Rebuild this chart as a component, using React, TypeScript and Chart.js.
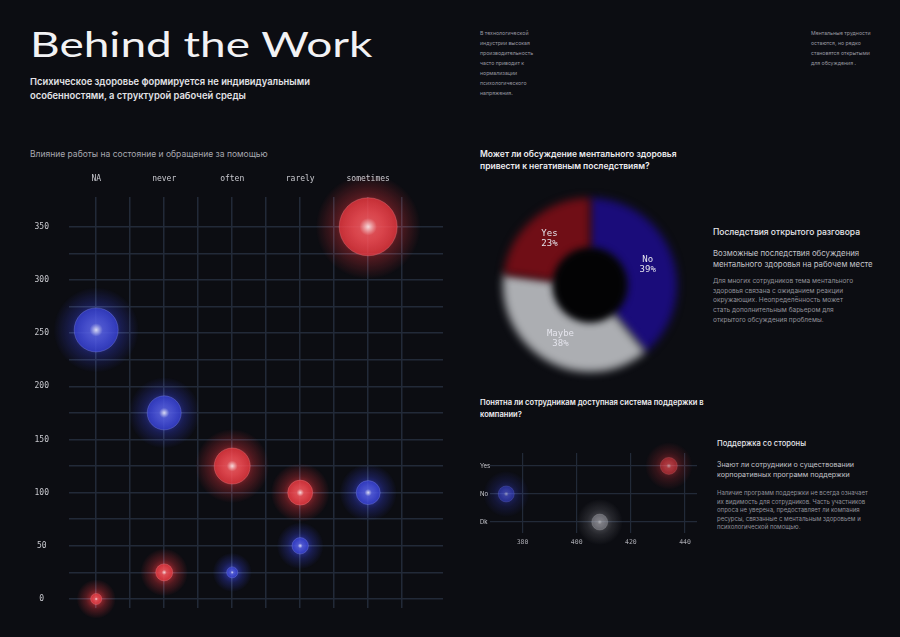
import React, { useEffect, useLayoutEffect, useRef } from "react";
import { Chart, registerables } from "chart.js";

Chart.register(...registerables);

// Влияние работы на состояние и обращение за помощью
const frequencyLabels = ["NA", "never", "often", "rarely", "sometimes"];
const workImpact = [0, 25, 125, 100, 350];
const workImpactSize = [5.5, 8.5, 18, 12.5, 29];
const helpSeeking = [253, 175, 25, 50, 100];
const helpSeekingSize = [22, 17, 5.5, 8.2, 12];
const impactAxisLabels = [0, 50, 100, 150, 200, 250, 300, 350];

// Может ли обсуждение привести к негативным последствиям
const consequenceLabels = ["No", "Maybe", "Yes"];
const consequenceShares = [39, 38, 23];

// Понятна ли система поддержки
const awarenessLabels = ["Dk", "No", "Yes"];
const awarenessCounts = [408.5, 374, 434];
const awarenessSize = [8, 8, 8.5];
const awarenessAxisLabels = [380, 400, 420, 440];

const BG = "#0c0d12";
const RED: number[] = [222, 52, 60];
const BLUE: number[] = [52, 62, 205];
const GREY: number[] = [150, 150, 158];
const GRID = "#222a38";
const MONO = "'DejaVu Sans Mono', 'Liberation Mono', monospace";
const SANS = "Inter, 'Noto Sans', sans-serif";

function drawOrb(ctx: CanvasRenderingContext2D, x: number, y: number, r: number, tint: number[], glow: number, body: number) {
  const [cr, cg, cb] = tint;
  const c = (a: number) => `rgba(${cr},${cg},${cb},${a})`;
  const light = (k: number, a: number) =>
    `rgba(${Math.round(cr + (255 - cr) * k)},${Math.round(cg + (255 - cg) * k)},${Math.round(cb + (255 - cb) * k)},${a})`;
  const outer = r * 1.4 + 12;
  ctx.save();
  ctx.globalCompositeOperation = "screen";
  const halo = ctx.createRadialGradient(x, y, r * 0.5, x, y, outer);
  halo.addColorStop(0, c(0.75 * glow));
  halo.addColorStop(0.45, c(0.32 * glow));
  halo.addColorStop(1, c(0));
  ctx.fillStyle = halo;
  ctx.beginPath();
  ctx.arc(x, y, outer, 0, Math.PI * 2);
  ctx.fill();
  ctx.globalCompositeOperation = "source-over";
  const sphere = ctx.createRadialGradient(x, y, 0, x, y, r);
  sphere.addColorStop(0, light(0.85, 0.95 * body));
  sphere.addColorStop(0.3, light(0.15, 0.88 * body));
  sphere.addColorStop(1, c(0.8 * body));
  ctx.fillStyle = sphere;
  ctx.beginPath();
  ctx.arc(x, y, r, 0, Math.PI * 2);
  ctx.fill();
  ctx.strokeStyle = light(0.4, 0.35 * body);
  ctx.lineWidth = 1;
  ctx.stroke();
  ctx.restore();
}

const orbPlugin = {
  id: "orbs",
  afterDatasetsDraw(chart: any) {
    const ctx = chart.ctx as CanvasRenderingContext2D;
    chart.data.datasets.forEach((ds: any, di: number) => {
      const meta = chart.getDatasetMeta(di);
      meta.data.forEach((el: any, i: number) => {
        const tint = ds.tints ? ds.tints[i] : ds.tint;
        drawOrb(ctx, el.x, el.y, el.options.radius, tint, ds.glow ?? 1, ds.body ?? 1);
      });
    });
  },
};

const softRingPlugin = {
  id: "softRing",
  beforeDatasetsDraw(chart: any) {
    chart.ctx.save();
    chart.ctx.filter = "blur(4px)";
  },
  afterDatasetsDraw(chart: any) {
    const ctx = chart.ctx as CanvasRenderingContext2D;
    const meta = chart.getDatasetMeta(0);
    const first = meta.data[0];
    ctx.fillStyle = "#030304";
    ctx.beginPath();
    ctx.arc(first.x, first.y, first.innerRadius, 0, Math.PI * 2);
    ctx.fill();
    ctx.restore();
    ctx.save();
    ctx.fillStyle = "#e4e4ec";
    ctx.font = `9px ${MONO}`;
    ctx.textAlign = "center";
    ctx.textBaseline = "middle";
    meta.data.forEach((arc: any, i: number) => {
      const p = arc.tooltipPosition();
      ctx.fillText(consequenceLabels[i], p.x, p.y - 5);
      ctx.fillText(`${consequenceShares[i]}%`, p.x, p.y + 5);
    });
    ctx.restore();
  },
};

function ImpactChart() {
  const ref = useRef<HTMLCanvasElement>(null);
  useEffect(() => {
    const chart = new Chart(ref.current!, {
      type: "bubble",
      data: {
        datasets: [
          {
            data: frequencyLabels.map((_, i) => ({ x: i, y: workImpact[i], r: workImpactSize[i] })),
            backgroundColor: "rgba(0,0,0,0)",
            borderWidth: 0,
            tint: RED,
          } as any,
          {
            data: frequencyLabels.map((_, i) => ({ x: i, y: helpSeeking[i], r: helpSeekingSize[i] })),
            backgroundColor: "rgba(0,0,0,0)",
            borderWidth: 0,
            tint: BLUE,
          } as any,
        ],
      },
      options: {
        responsive: false,
        animation: false,
        layout: { autoPadding: false, padding: { left: 0, right: 17, top: 0, bottom: 29 } },
        plugins: { legend: { display: false }, tooltip: { enabled: false } },
        scales: {
          x: {
            type: "linear",
            position: "top",
            min: -0.4,
            max: 5.1,
            afterBuildTicks: (s: any) => {
              s.ticks = frequencyLabels.flatMap((_, i) => [{ value: i }, { value: i + 0.5 }]);
            },
            afterFit: (s: any) => {
              s.height = 37;
              s.paddingLeft = 0;
              s.paddingRight = 0;
            },
            grid: { color: GRID, lineWidth: 1.5, drawTicks: false },
            border: { display: false },
            ticks: {
              padding: 13,
              color: "#c9c9cf",
              font: { family: MONO, size: 8 },
              autoSkip: false,
              maxRotation: 0,
              callback: (v: any) => (Number.isInteger(v) ? frequencyLabels[v] : ""),
            },
          },
          y: {
            type: "linear",
            min: -8.5,
            max: 378,
            afterBuildTicks: (s: any) => {
              const t = [];
              for (let v = 0; v <= 350; v += 25) t.push({ value: v });
              s.ticks = t;
            },
            afterFit: (s: any) => {
              s.width = 69;
              s.paddingTop = 0;
              s.paddingBottom = 0;
            },
            grid: { color: GRID, lineWidth: 1.5, drawTicks: false },
            border: { display: false },
            ticks: {
              padding: 20,
              crossAlign: "center",
              color: "#c9c9cf",
              font: { family: MONO, size: 8 },
              autoSkip: false,
              callback: (v: any) => (impactAxisLabels.includes(v) ? String(v) : ""),
            },
          },
        },
      } as any,
      plugins: [orbPlugin],
    });
    return () => chart.destroy();
  }, []);
  return <canvas ref={ref} width={460} height={477} style={{ position: "absolute", left: 0, top: 160 }} />;
}

function ConsequenceChart() {
  const ref = useRef<HTMLCanvasElement>(null);
  useEffect(() => {
    const chart = new Chart(ref.current!, {
      type: "doughnut",
      data: {
        labels: consequenceLabels,
        datasets: [
          {
            data: consequenceShares,
            backgroundColor: ["rgb(26,12,122)", "rgb(172,174,178)", "rgb(112,14,22)"],
            borderWidth: 0,
          },
        ],
      },
      options: {
        responsive: false,
        animation: false,
        cutout: "41%",
        layout: { padding: 13 },
        plugins: { legend: { display: false }, tooltip: { enabled: false } },
      },
      plugins: [softRingPlugin],
    });
    return () => chart.destroy();
  }, []);
  return <canvas ref={ref} width={200} height={200} style={{ position: "absolute", left: 490, top: 185 }} />;
}

function AwarenessChart() {
  const ref = useRef<HTMLCanvasElement>(null);
  useEffect(() => {
    const chart = new Chart(ref.current!, {
      type: "bubble",
      data: {
        datasets: [
          {
            data: awarenessLabels.map((_, i) => ({ x: awarenessCounts[i], y: i, r: awarenessSize[i] })),
            backgroundColor: "rgba(0,0,0,0)",
            borderWidth: 0,
            tints: [GREY, BLUE, RED],
            glow: 0.6,
            body: 0.6,
          } as any,
        ],
      },
      options: {
        responsive: false,
        animation: false,
        layout: { autoPadding: false, padding: { left: 10, right: 13, top: 13, bottom: 0 } },
        plugins: { legend: { display: false }, tooltip: { enabled: false } },
        scales: {
          x: {
            type: "linear",
            min: 368,
            max: 444.4,
            afterBuildTicks: (s: any) => {
              s.ticks = awarenessAxisLabels.map((v) => ({ value: v }));
            },
            afterFit: (s: any) => {
              s.height = 22;
              s.paddingLeft = 0;
              s.paddingRight = 0;
            },
            grid: { color: GRID, lineWidth: 1.2, drawTicks: false },
            border: { display: false },
            ticks: { padding: 5, color: "#a9a9b0", font: { family: MONO, size: 6.5 }, maxRotation: 0 },
          },
          y: {
            type: "linear",
            min: -0.39,
            max: 2.46,
            afterBuildTicks: (s: any) => {
              s.ticks = awarenessLabels.map((_, i) => ({ value: i }));
            },
            afterFit: (s: any) => {
              s.width = 10;
              s.paddingTop = 0;
              s.paddingBottom = 0;
            },
            grid: { color: GRID, lineWidth: 1.2, drawTicks: false },
            border: { display: false },
            ticks: {
              crossAlign: "far",
              padding: 0,
              color: "#c9c9cf",
              font: { family: SANS, size: 6 },
              callback: (v: any) => awarenessLabels[v] ?? "",
            },
          },
        },
      } as any,
      plugins: [orbPlugin],
    });
    return () => chart.destroy();
  }, []);
  return <canvas ref={ref} width={240} height={115} style={{ position: "absolute", left: 470, top: 440 }} />;
}

function Title() {
  const ref = useRef<HTMLSpanElement>(null);
  useLayoutEffect(() => {
    const el = ref.current!;
    el.style.transform = `scaleX(${343 / el.offsetWidth})`;
  }, []);
  return (
    <span
      ref={ref}
      style={{
        position: "absolute",
        left: 30,
        top: 26,
        display: "inline-block",
        whiteSpace: "nowrap",
        transformOrigin: "0 0",
        font: "400 35px Lato, sans-serif",
        lineHeight: "35px",
        color: "#f2f2f4",
      }}
    >
      Behind the Work
    </span>
  );
}

function Block(props: { x: number; y: number; size: number; lh: number; weight?: number; color: string; lines: string[] }) {
  return (
    <div
      style={{
        position: "absolute",
        left: props.x,
        top: props.y,
        fontFamily: SANS,
        fontSize: props.size,
        lineHeight: `${props.lh}px`,
        fontWeight: props.weight ?? 400,
        color: props.color,
        whiteSpace: "nowrap",
      }}
    >
      {props.lines.map((l, i) => (
        <div key={i}>{l}</div>
      ))}
    </div>
  );
}

export default function App() {
  return (
    <div style={{ position: "fixed", left: 0, top: 0, width: 900, height: 637, background: BG, overflow: "hidden" }}>
      <Title />
      <Block
        x={30}
        y={75}
        size={9.4}
        lh={14}
        weight={600}
        color="#e2e2e6"
        lines={["Психическое здоровье формируется не индивидуальными", "особенностями, а структурой рабочей среды"]}
      />
      <Block
        x={480}
        y={28}
        size={5.2}
        lh={10}
        color="#9a9aa2"
        lines={[
          "В технологической",
          "индустрии высокая",
          "производительность",
          "часто приводит к",
          "нормализации",
          "психологического",
          "напряжения.",
        ]}
      />
      <Block
        x={811}
        y={28}
        size={5.2}
        lh={10}
        color="#9a9aa2"
        lines={["Ментальные трудности", "остаются, но редко", "становятся открытыми", "для обсуждения ."]}
      />
      <Block x={30} y={148} size={8.5} lh={12} color="#a8a8b0" lines={["Влияние работы на состояние и обращение за помощью"]} />
      <ImpactChart />

      <Block
        x={480}
        y={148}
        size={8.5}
        lh={12}
        weight={600}
        color="#ececf0"
        lines={["Может ли обсуждение ментального здоровья", "привести к негативным последствиям?"]}
      />
      <ConsequenceChart />
      <Block x={713} y={226} size={8.5} lh={12} weight={500} color="#e6e6ea" lines={["Последствия открытого разговора"]} />
      <Block
        x={713}
        y={248}
        size={7.8}
        lh={10.5}
        color="#c4c4ca"
        lines={["Возможные последствия обсуждения", "ментального здоровья на рабочем месте"]}
      />
      <Block
        x={713}
        y={277}
        size={6.5}
        lh={9.7}
        color="#92929a"
        lines={[
          "Для многих сотрудников тема ментального",
          "здоровья связана с ожиданием реакции",
          "окружающих. Неопределённость может",
          "стать дополнительным барьером для",
          "открытого обсуждения проблемы.",
        ]}
      />

      <Block
        x={480}
        y={397}
        size={7.6}
        lh={11.5}
        weight={600}
        color="#ececf0"
        lines={["Понятна ли сотрудникам доступная система поддержки в", "компании?"]}
      />
      <AwarenessChart />
      <Block x={717} y={438} size={7.6} lh={12} weight={500} color="#e6e6ea" lines={["Поддержка со стороны"]} />
      <Block
        x={717}
        y={460}
        size={7.1}
        lh={10}
        color="#c4c4ca"
        lines={["Знают ли сотрудники о существовании", "корпоративных программ поддержки"]}
      />
      <Block
        x={717}
        y={489}
        size={6}
        lh={8.5}
        color="#92929a"
        lines={[
          "Наличие программ поддержки не всегда означает",
          "их видимость для сотрудников. Часть участников",
          "опроса не уверена, предоставляет ли компания",
          "ресурсы, связанные с ментальным здоровьем и",
          "психологической помощью.",
        ]}
      />
    </div>
  );
}
